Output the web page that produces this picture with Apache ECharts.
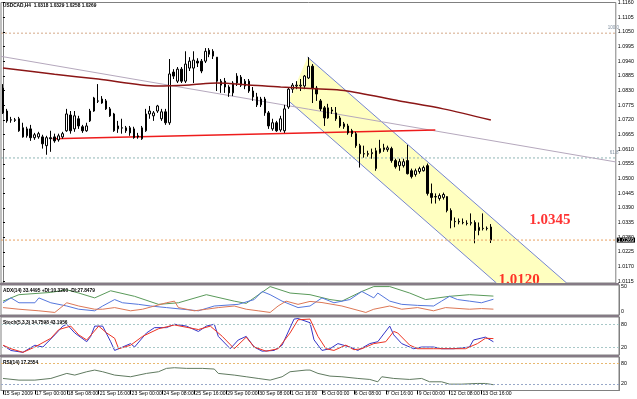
<!DOCTYPE html>
<html>
<head>
<meta charset="utf-8">
<script src="https://cdn.jsdelivr.net/npm/echarts@6/dist/echarts.min.js"></script>
<style>
html, body { margin: 0; padding: 0; background: #fff; }
#chart { width: 637px; height: 399px; }
</style>
</head>
<body>
<div id="chart"></div>
<script>
// USDCAD H4, 15 Sep - 13 Oct 2009
var xLabels = ['15 Sep 2009', '17 Sep 00:00', '18 Sep 08:00', '21 Sep 16:00', '23 Sep 00:00', '24 Sep 08:00',
  '25 Sep 16:00', '29 Sep 00:00', '30 Sep 08:00', '1 Oct 16:00', '5 Oct 00:00', '6 Oct 08:00',
  '7 Oct 16:00', '9 Oct 00:00', '12 Oct 08:00', '13 Oct 16:00'];
var barsPerLabel = 8;
var totalBars = 155;

var opens = [
  1.0839, 1.0753, 1.0720, 1.0720, 1.0724, 1.0690, 1.0660, 1.0686, 1.0653, 1.0656,
  1.0656, 1.0623, 1.0653, 1.0656, 1.0645, 1.0656, 1.0679, 1.0738, 1.0686, 1.0724,
  1.0694, 1.0679, 1.0716, 1.0753, 1.0791, 1.0783, 1.0791, 1.0761, 1.0742, 1.0686,
  1.0690, 1.0690, 1.0690, 1.0686, 1.0660, 1.0649, 1.0679, 1.0742, 1.0735, 1.0753,
  1.0724, 1.0750, 1.0709, 1.0899, 1.0865, 1.0910, 1.0865, 1.0914, 1.0914, 1.0940,
  1.0940, 1.0940, 1.0981, 1.0977, 1.0955, 1.0850, 1.0865, 1.0843, 1.0821, 1.0858,
  1.0880, 1.0847, 1.0865, 1.0828, 1.0806, 1.0776, 1.0798, 1.0746, 1.0686, 1.0709,
  1.0682, 1.0679, 1.0768, 1.0835, 1.0847, 1.0847, 1.0847, 1.0877, 1.0921, 1.0839,
  1.0791, 1.0765, 1.0727, 1.0757, 1.0746, 1.0727, 1.0694, 1.0697, 1.0679, 1.0668,
  1.0623, 1.0593, 1.0593, 1.0593, 1.0537, 1.0597, 1.0608, 1.0608, 1.0612, 1.0567,
  1.0548, 1.0548, 1.0567, 1.0529, 1.0515, 1.0526, 1.0529, 1.0548, 1.0444, 1.0432,
  1.0425, 1.0429, 1.0432, 1.0380, 1.0339, 1.0339, 1.0335, 1.0332, 1.0332, 1.0335,
  1.0305, 1.0313, 1.0313, 1.0318
];
var closes = [
  1.0746, 1.0716, 1.0719, 1.0718, 1.0679, 1.0656, 1.0686, 1.0653, 1.0664, 1.0668,
  1.0630, 1.0653, 1.0649, 1.0641, 1.0660, 1.0668, 1.0742, 1.0679, 1.0735, 1.0697,
  1.0679, 1.0697, 1.0753, 1.0802, 1.0790, 1.0798, 1.0761, 1.0735, 1.0679, 1.0697,
  1.0689, 1.0679, 1.0671, 1.0653, 1.0656, 1.0690, 1.0742, 1.0753, 1.0746, 1.0772,
  1.0750, 1.0709, 1.0892, 1.0884, 1.0910, 1.0865, 1.0929, 1.0940, 1.0944, 1.0933,
  1.0903, 1.0977, 1.0966, 1.0959, 1.0865, 1.0865, 1.0843, 1.0821, 1.0858, 1.0884,
  1.0850, 1.0865, 1.0828, 1.0806, 1.0776, 1.0798, 1.0746, 1.0697, 1.0709, 1.0679,
  1.0724, 1.0761, 1.0835, 1.0850, 1.0850, 1.0850, 1.0884, 1.0921, 1.0839, 1.0817,
  1.0761, 1.0727, 1.0765, 1.0753, 1.0724, 1.0697, 1.0705, 1.0671, 1.0668, 1.0623,
  1.0593, 1.0592, 1.0591, 1.0597, 1.0604, 1.0612, 1.0615, 1.0615, 1.0567, 1.0544,
  1.0563, 1.0563, 1.0518, 1.0507, 1.0529, 1.0537, 1.0541, 1.0444, 1.0429, 1.0431,
  1.0436, 1.0440, 1.0380, 1.0343, 1.0338, 1.0337, 1.0334, 1.0331, 1.0335, 1.0305,
  1.0317, 1.0312, 1.0312, 1.0269
];
var lows = [
  1.0742, 1.0709, 1.0709, 1.0712, 1.0675, 1.0653, 1.0653, 1.0641, 1.0645, 1.0649,
  1.0612, 1.0589, 1.0600, 1.0634, 1.0638, 1.0649, 1.0675, 1.0668, 1.0675, 1.0686,
  1.0671, 1.0675, 1.0712, 1.0750, 1.0783, 1.0780, 1.0757, 1.0731, 1.0675, 1.0671,
  1.0668, 1.0671, 1.0660, 1.0649, 1.0649, 1.0645, 1.0675, 1.0724, 1.0716, 1.0746,
  1.0716, 1.0701, 1.0701, 1.0873, 1.0858, 1.0858, 1.0858, 1.0903, 1.0858, 1.0918,
  1.0895, 1.0933, 1.0955, 1.0948, 1.0828, 1.0821, 1.0821, 1.0806, 1.0809, 1.0847,
  1.0843, 1.0835, 1.0821, 1.0791, 1.0768, 1.0768, 1.0735, 1.0686, 1.0679, 1.0675,
  1.0675, 1.0671, 1.0761, 1.0821, 1.0835, 1.0828, 1.0835, 1.0873, 1.0783, 1.0791,
  1.0753, 1.0697, 1.0724, 1.0742, 1.0716, 1.0690, 1.0686, 1.0664, 1.0656, 1.0615,
  1.0541, 1.0578, 1.0582, 1.0574, 1.0529, 1.0593, 1.0600, 1.0600, 1.0559, 1.0537,
  1.0529, 1.0541, 1.0515, 1.0500, 1.0507, 1.0518, 1.0526, 1.0436, 1.0406, 1.0406,
  1.0417, 1.0421, 1.0373, 1.0313, 1.0317, 1.0328, 1.0328, 1.0324, 1.0324, 1.0257,
  1.0287, 1.0305, 1.0305, 1.0258
];
var highs = [
  1.0854, 1.0761, 1.0731, 1.0727, 1.0731, 1.0709, 1.0694, 1.0701, 1.0671, 1.0675,
  1.0664, 1.0660, 1.0679, 1.0668, 1.0668, 1.0675, 1.0761, 1.0753, 1.0753, 1.0735,
  1.0701, 1.0709, 1.0761, 1.0806, 1.0854, 1.0809, 1.0798, 1.0768, 1.0746, 1.0716,
  1.0724, 1.0697, 1.0697, 1.0694, 1.0671, 1.0697, 1.0761, 1.0772, 1.0753, 1.0776,
  1.0761, 1.0761, 1.0948, 1.0910, 1.0918, 1.0918, 1.0977, 1.0955, 1.0977, 1.0951,
  1.0948, 1.0989, 1.0989, 1.0985, 1.0955, 1.0873, 1.0877, 1.0850, 1.0865, 1.0895,
  1.0888, 1.0873, 1.0873, 1.0843, 1.0821, 1.0806, 1.0806, 1.0753, 1.0724, 1.0716,
  1.0735, 1.0776, 1.0843, 1.0858, 1.0865, 1.0873, 1.0888, 1.0955, 1.0929, 1.0847,
  1.0798, 1.0772, 1.0780, 1.0768, 1.0768, 1.0735, 1.0712, 1.0705, 1.0686, 1.0675,
  1.0630, 1.0623, 1.0604, 1.0612, 1.0615, 1.0645, 1.0630, 1.0623, 1.0619, 1.0574,
  1.0574, 1.0574, 1.0626, 1.0537, 1.0537, 1.0544, 1.0548, 1.0556, 1.0481, 1.0444,
  1.0444, 1.0447, 1.0433, 1.0388, 1.0354, 1.0350, 1.0350, 1.0343, 1.0369, 1.0343,
  1.0335, 1.0369, 1.0320, 1.0329
];
var lastPrice = 1.0269;
var priceTicks = [1.1160, 1.1105, 1.1050, 1.0995, 1.0940, 1.0885, 1.0830, 1.0775, 1.0720, 1.0665,
  1.0610, 1.0555, 1.0500, 1.0445, 1.0390, 1.0335, 1.0280, 1.0225, 1.0170, 1.0115];

// drawn objects: [bar index, price]
var maPoints = [[0, 1.0914], [13, 1.0891], [24, 1.0873], [39, 1.0847], [47, 1.0851], [54, 1.0858],
  [62, 1.0851], [70, 1.0843], [80, 1.0836], [86, 1.0830], [100, 1.0791], [111, 1.0761], [123, 1.0719]];
var trendPoints = [[-0.5, 1.0958], [154.5, 1.0562]];
var supportPoints = [[12.5, 1.0649], [109, 1.0682]];
var channelUpper = [[76.8, 1.0955], [142.1, 1.0108]];
var channelLower = [[72.0, 1.0791], [124.4, 1.0108]];
var fiboNames = ['100.0', '61.8'];
var fiboPrices = [1.1045, 1.0577];
var priceNotes = [[132.7, 1.0345], [124.9, 1.0120]];

// indicators: [bar index, value]
var adxMain = [[0, 24.5], [4, 35.9], [12, 39.9], [16, 44.5], [19, 38.8], [23, 30.2], [27, 42.8], [33, 33], [39, 18.8],
  [44, 21.6], [51, 35.9], [58, 24.5], [61, 20.5], [67, 50.2], [72, 38.8], [77, 35.9], [82, 27.3], [85, 24.5],
  [90, 41.6], [93, 50.2], [97, 50.2], [102, 38.8], [106, 27.3], [112, 33], [117, 35.9], [123, 33.4]];
var minusDi = [[0, 21.6], [2, 30.2], [4, 21.6], [8, 21.6], [9, 30.2], [12, 21.6], [16, 15.9], [19, 10.2], [23, 7.4],
  [25, 15.9], [28, 27.3], [30, 21.6], [34, 18.8], [37, 15.9], [41, 13.1], [49, 7.4], [53, 15.9], [59, 18.8],
  [63, 27.3], [65, 41.6], [67, 35.9], [70, 24.5], [74, 13.1], [77, 15.9], [80, 30.2], [83, 21.6], [87, 27.3],
  [90, 41.6], [93, 30.2], [94, 38.8], [97, 24.5], [100, 18.8], [104, 17], [108, 15.9], [110, 24.5], [112, 33],
  [114, 27.3], [117, 24.5], [120, 21.6], [123, 27.8]];
var plusDi = [[0, 13.1], [4, 10.2], [9, 7.4], [13, 4.5], [16, 21.6], [19, 15.9], [23, 10.2], [25, 10.2], [28, 13.1],
  [32, 7.4], [35, 10.2], [38, 15.9], [41, 21.6], [43, 24.5], [44, 13.1], [48, 7.4], [51, 10.2], [54, 13.1],
  [58, 15.9], [61, 10.2], [64, 7.4], [67, 4.5], [69, 15.9], [71, 24.5], [74, 18.8], [77, 24], [80, 22],
  [85, 15.9], [91, 4.5], [93, 10.2], [97, 15.9], [100, 10.2], [104, 13.1], [108, 7.4], [111, 13.1],
  [117, 10.2], [120, 11.4], [123, 10.3]];
var stochMain = [[0, 25.7], [2, 11.9], [5, 7], [8, 25.7], [10, 21], [13, 53], [15, 76], [16, 81], [18, 58], [21, 35],
  [22, 49], [23, 76], [25, 76], [27, 35], [28, 12], [30, 21], [32, 30], [33, 21], [36, 58], [38, 72], [41, 72],
  [43, 81], [46, 76], [49, 62], [51, 76], [53, 81], [54, 49], [57, 16.5], [59, 39.5], [61, 49], [63, 21],
  [65, 10], [68, 12], [70, 25.7], [73, 94.5], [74, 96], [77, 85], [78, 40], [80, 12], [82, 16.5], [84, 30],
  [87, 21], [89, 12], [92, 30], [94, 35], [97, 76], [98, 53], [100, 30], [103, 16.5], [105, 21], [108, 21],
  [110, 16.5], [113, 16.5], [117, 21], [118, 39.5], [121, 47], [123, 34.8]];
var stochSignal = [[0, 25.7], [2, 16.5], [5, 7], [8, 21], [12, 44], [14, 67], [17, 76], [19, 53], [21, 39.5],
  [24, 76], [26, 58], [28, 44], [29, 16.5], [32, 25.7], [35, 49], [39, 69], [43, 79], [49, 67], [52, 76],
  [55, 49], [58, 16.5], [61, 47], [63, 21], [66, 10], [69, 16.5], [72, 58], [74, 92.7], [77, 94.5], [79, 49],
  [81, 16.5], [83, 12], [86, 26], [88, 14], [90, 16.5], [93, 30], [96, 35], [98, 62], [99, 58], [102, 26],
  [104, 16.5], [108, 16.5], [112, 16.5], [116, 16.5], [119, 30], [121, 44], [123, 43.2]];
var rsiLine = [[0, 36], [4, 31], [8, 31], [12, 36], [16, 51], [18, 46], [21, 56], [23, 61], [25, 56], [28, 46],
  [32, 41], [36, 51], [39, 56], [41, 66], [43, 68], [46, 66], [50, 66], [53, 64], [54, 51], [58, 46], [61, 41],
  [64, 36], [67, 31], [70, 41], [72, 56], [76, 61], [77, 61], [79, 51], [82, 43], [85, 41], [89, 36], [92, 33],
  [94, 26], [95, 41], [98, 36], [102, 33], [105, 36], [107, 26], [110, 26], [112, 19], [115, 19], [119, 21],
  [121, 21], [123, 17.3]];

var candles = opens.map(function (o, i) { return [o, closes[i], lows[i], highs[i]]; });
var categories = [];
for (var i = 0; i < totalBars; i++) categories.push(String(i));
var isLabelBar = function (idx) {
  return idx % barsPerLabel === 0 && idx / barsPerLabel < xLabels.length;
};
// horizontal level spanning the whole main window
function level(price) { return [[-0.5, price], [totalBars - 0.5, price]]; }

var titleFont = {fontFamily: 'Liberation Sans', fontSize: 4.8, color: '#000'};
var axisFont = {fontFamily: 'Liberation Sans', fontSize: 5.3, color: '#000'};
var frame = '#808080';

function catAxis(gridIndex, showLabels) {
  return {
    type: 'category', gridIndex: gridIndex, data: categories, boundaryGap: true,
    axisLine: {show: showLabels, lineStyle: {color: frame}},
    axisTick: {show: showLabels, alignWithLabel: true, interval: function (idx) { return isLabelBar(idx); }, length: 4, lineStyle: {color: '#000'}},
    axisLabel: {
      show: showLabels, interval: function (idx) { return isLabelBar(idx); },
      hideOverlap: false, showMinLabel: true,
      formatter: function (v, idx) { return isLabelBar(idx) ? xLabels[idx / barsPerLabel] : ''; },
      align: 'left', margin: 1, padding: [0, 0, 0, 1],
      fontFamily: 'Liberation Sans', fontSize: 5.1, color: '#000'
    },
    splitLine: {show: false}
  };
}
function edgeLabel(v) {
  if (v === 100) return '{t|100}';
  if (v === 0) return '{b|0}';
  return String(v);
}
var edgeRich = {t: {padding: [6, 0, 0, 0], fontSize: 5.3, fontFamily: 'Liberation Sans'}, b: {padding: [0, 0, 7, 0], fontSize: 5.3, fontFamily: 'Liberation Sans'}};
function subAxis(gridIndex, min, max, ticks) {
  return {
    type: 'value', gridIndex: gridIndex, position: 'right', min: min, max: max,
    axisLine: {show: true, lineStyle: {color: frame}},
    axisTick: {show: false},
    axisLabel: Object.assign({customValues: ticks, formatter: edgeLabel, rich: edgeRich, margin: 2, hideOverlap: false}, axisFont),
    splitLine: {show: false}
  };
}
function overlayLine(data, color, width, z, extra) {
  return Object.assign({type: 'line', xAxisIndex: 4, yAxisIndex: 0, z: z, symbol: 'none', silent: true,
    lineStyle: {color: color, width: width}, data: data}, extra || {});
}

var chart = echarts.init(document.getElementById('chart'), null, {renderer: 'canvas'});
chart.setOption({
  animation: false,
  backgroundColor: '#fff',
  title: [
    {text: 'USDCAD,H4  1.0318 1.0329 1.0258 1.0269', left: 3, top: 3, padding: 0, textStyle: titleFont},
    {text: 'ADX(14) 33.4495 +DI:10.3260 -DI:27.8479', left: 3, top: 288, padding: 0, textStyle: titleFont},
    {text: 'Stoch(5,3,3) 34.7598 43.1956', left: 3, top: 320, padding: 0, textStyle: titleFont},
    {text: 'RSI(14) 17.2554', left: 3, top: 360, padding: 0, textStyle: titleFont}
  ],
  grid: [
    {left: 1, right: 18, top: 1, height: 282, show: true, borderColor: frame, borderWidth: 1},
    {left: 1, right: 18, top: 285, height: 30, show: true, borderColor: frame, borderWidth: 1},
    {left: 1, right: 18, top: 317, height: 38, show: true, borderColor: frame, borderWidth: 1},
    {left: 1, right: 18, top: 357, height: 33.5, show: true, borderColor: frame, borderWidth: 1}
  ],
  graphic: [
    {type: 'rect', shape: {x: 0, y: 283, width: 619, height: 2}, style: {fill: '#857a85'}, z: 100},
    {type: 'rect', shape: {x: 0, y: 315, width: 619, height: 2}, style: {fill: '#857a85'}, z: 100},
    {type: 'rect', shape: {x: 0, y: 355, width: 619, height: 2}, style: {fill: '#857a85'}, z: 100}
  ],
  xAxis: [
    catAxis(0, false), catAxis(1, false), catAxis(2, false), catAxis(3, true),
    {type: 'value', gridIndex: 0, min: -0.5, max: totalBars - 0.5, show: false}
  ],
  yAxis: [
    {
      type: 'value', gridIndex: 0, position: 'right', min: 1.0108, max: 1.1160,
      axisLine: {show: true, lineStyle: {color: frame}},
      axisTick: {show: true, customValues: priceTicks, length: 2, lineStyle: {color: '#000'}},
      axisLabel: Object.assign({customValues: priceTicks, margin: 2, hideOverlap: false, formatter: function (v) { return v.toFixed(4); }}, axisFont),
      splitLine: {show: false}
    },
    subAxis(1, 0, 53, [0, 50]),
    subAxis(2, 0, 100, [0, 20, 80, 100]),
    subAxis(3, 0, 100, [0, 20, 80, 100])
  ],
  series: [
    {
      type: 'custom', xAxisIndex: 4, yAxisIndex: 0, z: 1, silent: true, clip: true,
      renderItem: function (params, api) {
        var pts = [channelUpper[0], channelUpper[1], channelLower[1], channelLower[0]].map(function (p) { return api.coord(p); });
        return {type: 'polygon', shape: {points: pts}, style: {fill: '#ffffc0'}};
      },
      data: [channelUpper[0]]
    },
    overlayLine(level(fiboPrices[0]), '#d4a888', 1, 2, {lineStyle: {color: '#d4a888', width: 1, type: [2, 2]},
      endLabel: {show: true, formatter: fiboNames[0], offset: [-16, -5], fontFamily: 'Liberation Sans', fontSize: 4.5, color: '#8090a0'}}),
    overlayLine(level(fiboPrices[1]), '#8fb5b5', 1, 2, {lineStyle: {color: '#8fb5b5', width: 1, type: [2, 2]},
      endLabel: {show: true, formatter: fiboNames[1], offset: [-14, -5], fontFamily: 'Liberation Sans', fontSize: 4.5, color: '#8090a0'}}),
    overlayLine(channelUpper, '#7585d0', 1, 2),
    overlayLine(channelLower, '#7585d0', 1, 2),
    overlayLine(trendPoints, '#b5a8bd', 1, 2),
    overlayLine(supportPoints, '#ee1c1c', 1.5, 2),
    {
      type: 'candlestick', xAxisIndex: 0, yAxisIndex: 0, z: 3, barWidth: 2, silent: true,
      itemStyle: {color: '#ffffff', color0: '#000000', borderColor: '#000000', borderColor0: '#000000', borderWidth: 1},
      data: candles
    },
    overlayLine(level(lastPrice), '#e8a060', 1, 4, {lineStyle: {color: '#e8a060', width: 1, type: [2, 2]},
      endLabel: {show: true, formatter: lastPrice.toFixed(4), distance: 1, backgroundColor: '#000', color: '#fff',
        fontFamily: 'Liberation Sans', fontSize: 5.3, padding: [0, 1]}}),
    overlayLine(maPoints, '#8b1616', 1.5, 4, {smooth: 0.3}),
    {
      type: 'scatter', xAxisIndex: 4, yAxisIndex: 0, z: 5, symbolSize: 0, silent: true, data: priceNotes,
      label: {show: true, position: 'right', distance: 0, formatter: function (p) { return p.value[1].toFixed(4); },
        fontFamily: 'Liberation Serif', fontWeight: 'bold', fontSize: 15, color: '#ff0000'}
    },
    {type: 'line', xAxisIndex: 1, yAxisIndex: 1, symbol: 'none', silent: true, lineStyle: {color: '#5a9a5a', width: 1}, data: adxMain},
    {type: 'line', xAxisIndex: 1, yAxisIndex: 1, symbol: 'none', silent: true, lineStyle: {color: '#5577dd', width: 1}, data: minusDi},
    {type: 'line', xAxisIndex: 1, yAxisIndex: 1, symbol: 'none', silent: true, lineStyle: {color: '#dd7755', width: 1}, data: plusDi},
    {
      type: 'line', xAxisIndex: 2, yAxisIndex: 2, symbol: 'none', silent: true, lineStyle: {color: '#3535c8', width: 1}, data: stochMain,
      markLine: {symbol: 'none', silent: true, label: {show: false}, lineStyle: {color: '#a8c8c8', type: [2, 2], width: 1}, data: [{yAxis: 80}, {yAxis: 20}]}
    },
    {type: 'line', xAxisIndex: 2, yAxisIndex: 2, symbol: 'none', silent: true, lineStyle: {color: '#ee3322', width: 1}, data: stochSignal},
    {
      type: 'line', xAxisIndex: 3, yAxisIndex: 3, symbol: 'none', silent: true, lineStyle: {color: '#607a60', width: 1}, data: rsiLine,
      markLine: {symbol: 'none', silent: true, label: {show: false}, data: [
        {yAxis: 80, lineStyle: {color: '#e8b870', type: [2, 2], width: 1}},
        {yAxis: 20, lineStyle: {color: '#98a8c8', type: [2, 2], width: 1}}
      ]}
    }
  ]
});
</script>
</body>
</html>
